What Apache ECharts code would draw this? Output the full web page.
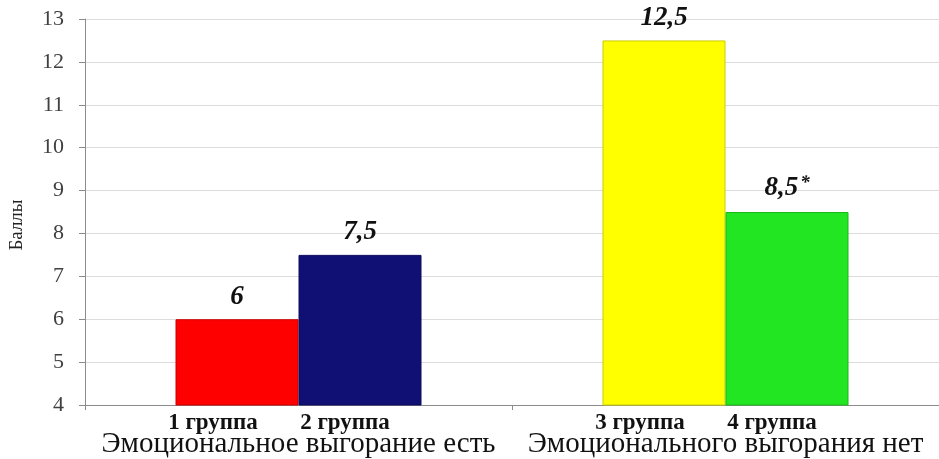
<!DOCTYPE html>
<html>
<head>
<meta charset="utf-8">
<script src="https://cdn.jsdelivr.net/npm/echarts@6/dist/echarts.min.js"></script>
<style>html,body{margin:0;padding:0;background:#fff}#c{width:939px;height:459px}</style>
</head>
<body>
<div id="c"></div>
<script>
const categories = ['Эмоциональное выгорание есть', 'Эмоционального выгорания нет'];
const firstGroupNames = ['1 группа', '3 группа'];
const secondGroupNames = ['2 группа', '4 группа'];
const firstValues = [6, 12.5];
const secondValues = [7.5, 8.5];
const firstNotes = ['', ''];
const secondNotes = ['', '*'];
const firstColors = ['#ff0000', '#ffff00'];
const secondColors = ['#0f0f74', '#22e622'];
const yTicks = { min: 4, max: 13, interval: 1 };
const yName = 'Баллы';

const SERIF = '"Liberation Serif", "DejaVu Serif", serif';
const fmtNum = v => String(v).replace('.', ',');

function darker(hex, f) {
  const n = parseInt(hex.slice(1), 16);
  const r = Math.round(((n >> 16) & 255) * f), g = Math.round(((n >> 8) & 255) * f), b = Math.round((n & 255) * f);
  return 'rgb(' + r + ',' + g + ',' + b + ')';
}

function barData(values, colors) {
  return values.map((v, i) => ({
    value: v,
    itemStyle: {
      color: colors[i],
      borderColor: darker(colors[i], 0.8),
      borderWidth: 1
    }
  }));
}

const valueLabelStyle = {
  show: true,
  position: 'top',
  distance: 9,
  fontFamily: SERIF,
  fontSize: 27,
  fontWeight: 'bold',
  fontStyle: 'italic',
  color: '#111',
  rich: {
    star: { fontFamily: SERIF, fontSize: 19, fontWeight: 'bold', fontStyle: 'italic', color: '#111', verticalAlign: 'top', padding: [0, 0, 10, 2] }
  }
};

function groupLabel(names, dx) {
  return {
    show: true,
    position: 'bottom',
    distance: 6,
    offset: [dx, 0],
    fontFamily: SERIF,
    fontSize: 23,
    fontWeight: 'bold',
    color: '#111',
    formatter: p => names[p.dataIndex]
  };
}

function valueCap(values, notes, stack) {
  return {
    type: 'bar',
    stack: stack,
    barWidth: 123,
    barGap: '0%',
    silent: true,
    data: values.map(() => 0.0001),
    itemStyle: { color: 'rgba(0,0,0,0)' },
    label: Object.assign({}, valueLabelStyle, {
      formatter: p => fmtNum(values[p.dataIndex]) + (notes[p.dataIndex] ? '{star|' + notes[p.dataIndex] + '}' : '')
    })
  };
}

const chart = echarts.init(document.getElementById('c'), null, { renderer: 'canvas' });
chart.setOption({
  animation: false,
  backgroundColor: '#ffffff',
  grid: { left: 83, width: 866, top: 19, height: 386, containLabel: false },
  xAxis: {
    type: 'category',
    data: categories,
    axisLine: { show: true, lineStyle: { color: '#8c8c8c', width: 1 } },
    axisTick: { show: true, length: 5, lineStyle: { color: '#8c8c8c' } },
    axisLabel: { interval: 0, hideOverlap: false, margin: 25, fontFamily: SERIF, fontSize: 29, color: '#111' }
  },
  yAxis: {
    type: 'value',
    min: yTicks.min,
    max: yTicks.max,
    interval: yTicks.interval,
    name: yName,
    nameLocation: 'middle',
    nameGap: 58,
    nameTextStyle: { fontFamily: SERIF, fontSize: 19, color: '#222', padding: [0, 26, 0, 0] },
    axisLine: { show: true, lineStyle: { color: '#8c8c8c' } },
    axisTick: { show: true, length: 6, lineStyle: { color: '#8c8c8c' } },
    axisLabel: { margin: 21, fontFamily: SERIF, fontSize: 22, color: '#404040' },
    splitLine: { show: true, lineStyle: { color: '#dcdcdc' } }
  },
  series: [
    {
      type: 'bar', stack: 'a', barWidth: 123, barGap: '0%',
      data: barData(firstValues, firstColors),
      label: groupLabel(firstGroupNames, -24)
    },
    valueCap(firstValues, firstNotes, 'a'),
    {
      type: 'bar', stack: 'b', barWidth: 123, barGap: '0%',
      data: barData(secondValues, secondColors),
      label: groupLabel(secondGroupNames, -15)
    },
    valueCap(secondValues, secondNotes, 'b')
  ]
});
</script>
</body>
</html>
